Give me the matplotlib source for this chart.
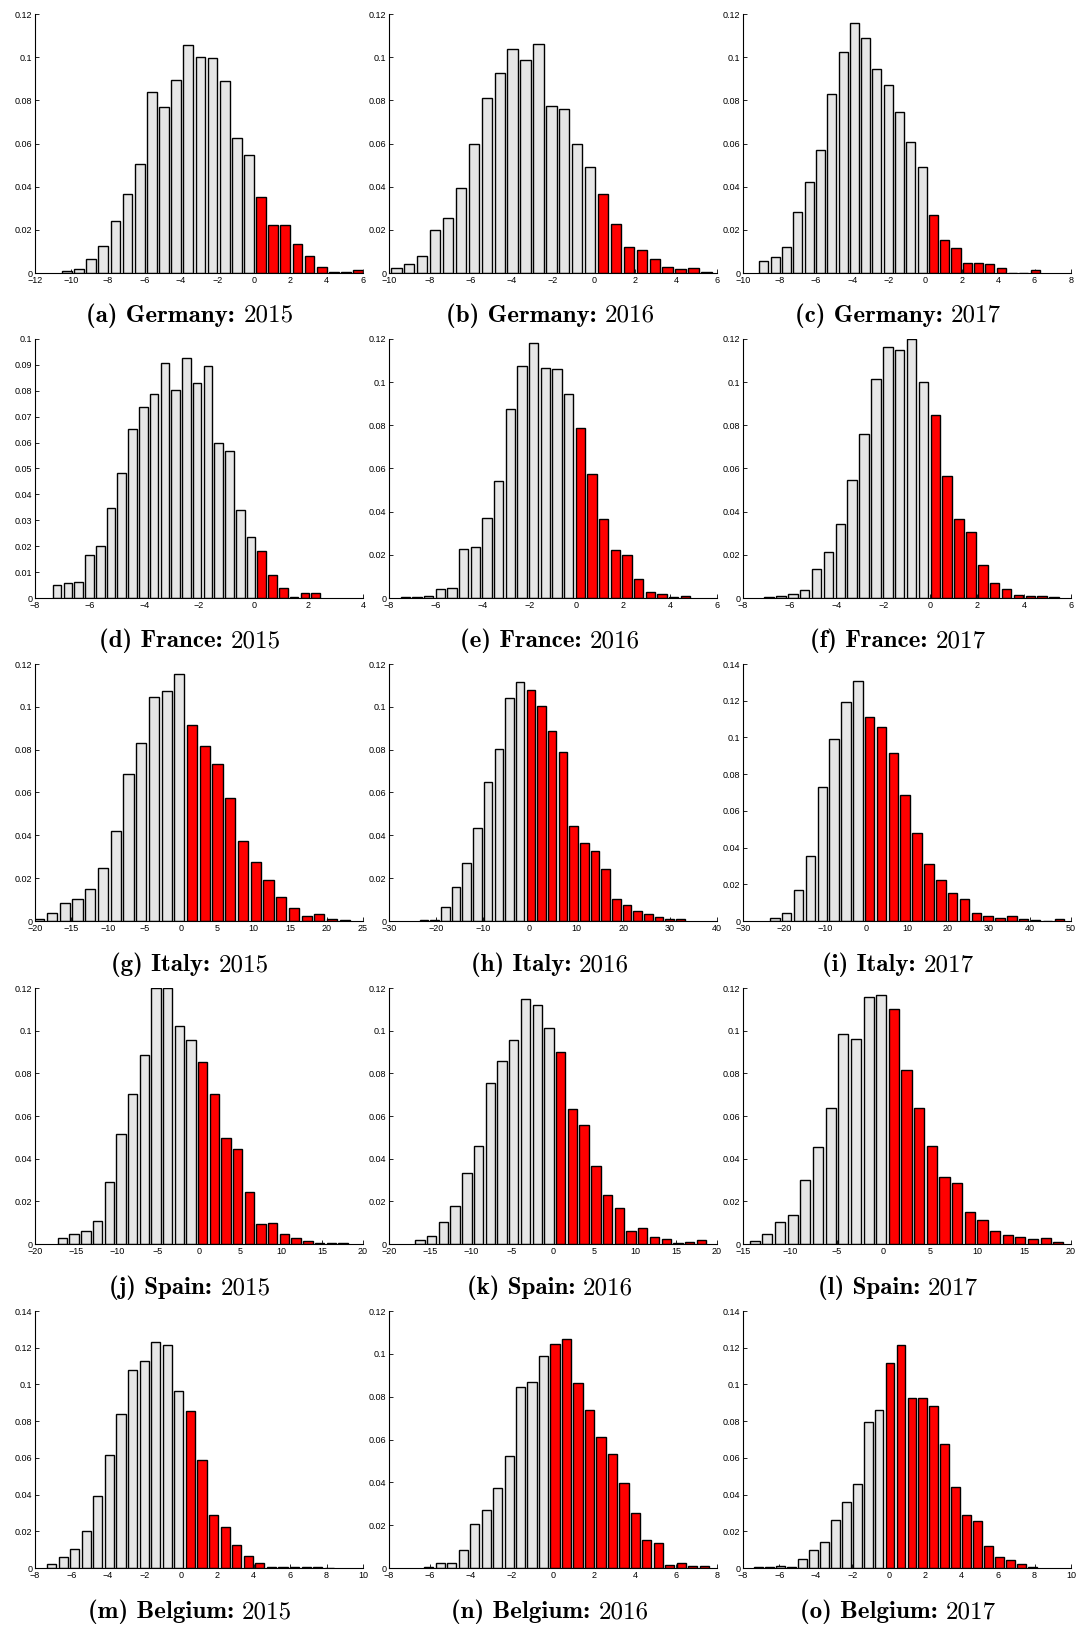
import os
import numpy as np
import matplotlib
import matplotlib.pyplot as plt
from matplotlib import font_manager
from matplotlib.ticker import FuncFormatter, MultipleLocator

plt.rcParams["font.family"] = ["Liberation Sans", "DejaVu Sans"]

countries = ["Germany", "France", "Italy", "Spain", "Belgium"]
years = [2015, 2016, 2017]
letters = "abcdefghijklmno"

# histogram heights (relative frequency), one list per country/year
germany_2015 = [0.001, 0.002, 0.0065, 0.0124, 0.0241, 0.0365, 0.0506, 0.0837, 0.077, 0.0892,
                0.1058, 0.1002, 0.0996, 0.0888, 0.0626, 0.0546, 0.0354, 0.0224, 0.0224, 0.0136,
                0.008, 0.0029, 0.0003, 0.0006, 0.0015]
germany_2016 = [0.0025, 0.004, 0.008, 0.020, 0.0255, 0.0394, 0.060, 0.0812, 0.0928, 0.1036,
                0.0987, 0.1062, 0.0775, 0.0762, 0.060, 0.049, 0.0366, 0.0229, 0.0119, 0.0105,
                0.0065, 0.0029, 0.002, 0.0025, 0.0006]
germany_2017 = [0.0054, 0.0074, 0.012, 0.0284, 0.0421, 0.0571, 0.083, 0.1022, 0.1157, 0.1087,
                0.0946, 0.0871, 0.0745, 0.0609, 0.0492, 0.0271, 0.0155, 0.0114, 0.0048, 0.0048,
                0.0043, 0.0025, 0.0, 0.0, 0.0015]
france_2015 = [0.0049, 0.0059, 0.0063, 0.0165, 0.020, 0.0349, 0.0481, 0.0651, 0.0736, 0.0786,
               0.0906, 0.0805, 0.0927, 0.0831, 0.0897, 0.060, 0.0566, 0.034, 0.0235, 0.0183,
               0.009, 0.0039, 0.0005, 0.0021, 0.0021]
france_2016 = [0.0003, 0.0003, 0.0009, 0.0043, 0.0048, 0.0229, 0.0234, 0.0371, 0.0544, 0.0875,
               0.1076, 0.118, 0.1067, 0.1061, 0.0946, 0.0786, 0.0574, 0.0365, 0.0224, 0.020,
               0.0088, 0.0029, 0.0019, 0.0005, 0.0009]
france_2017 = [0.0003, 0.0009, 0.002, 0.0039, 0.0133, 0.0213, 0.0345, 0.0549, 0.0761, 0.1013,
               0.1161, 0.1151, 0.120, 0.0999, 0.0846, 0.0567, 0.0365, 0.0308, 0.0155, 0.0068,
               0.0043, 0.0014, 0.0008, 0.0008, 0.0003]
italy_2015 = [0.0009, 0.0039, 0.0084, 0.0104, 0.0148, 0.0249, 0.0419, 0.0688, 0.0829, 0.1048,
              0.1075, 0.1154, 0.0917, 0.0815, 0.0735, 0.0575, 0.0374, 0.0274, 0.0193, 0.0114,
              0.0059, 0.0023, 0.0034, 0.0009, 0.0005]
italy_2016 = [0.0005, 0.0005, 0.0064, 0.016, 0.027, 0.0435, 0.065, 0.0805, 0.1039, 0.1115,
              0.108, 0.1005, 0.0885, 0.079, 0.0445, 0.0365, 0.0329, 0.0245, 0.0105, 0.0073,
              0.0048, 0.0034, 0.0019, 0.0009, 0.0009]
italy_2017 = [0.0015, 0.0044, 0.0169, 0.0355, 0.0729, 0.0989, 0.1191, 0.1305, 0.1113, 0.1055,
              0.0913, 0.0684, 0.048, 0.0309, 0.0225, 0.0155, 0.012, 0.0044, 0.0025, 0.0015,
              0.0029, 0.0011, 0.0004, 0.0, 0.0011]
spain_2015 = [0.0026, 0.0047, 0.0062, 0.011, 0.029, 0.0517, 0.0704, 0.0888, 0.120, 0.120,
              0.1022, 0.0957, 0.0852, 0.0704, 0.0497, 0.0443, 0.0242, 0.0093, 0.0097, 0.0047,
              0.0026, 0.0012, 0.0003, 0.0006, 0.0006]
spain_2016 = [0.0017, 0.0036, 0.0101, 0.0177, 0.0335, 0.0461, 0.0757, 0.0857, 0.0957, 0.1149,
              0.112, 0.1013, 0.0898, 0.0633, 0.0558, 0.0366, 0.0232, 0.0167, 0.0062, 0.0075,
              0.0031, 0.0023, 0.0005, 0.0008, 0.0019]
spain_2017 = [0.0012, 0.0047, 0.0101, 0.0137, 0.030, 0.0455, 0.0639, 0.0986, 0.0963, 0.1158,
              0.1167, 0.1102, 0.0817, 0.0639, 0.0461, 0.0316, 0.0287, 0.0151, 0.0111, 0.0061,
              0.004, 0.0031, 0.0022, 0.0026, 0.0011]
belgium_2015 = [0.002, 0.0062, 0.0105, 0.0202, 0.0391, 0.0616, 0.0838, 0.1078, 0.1127, 0.1233,
                0.1213, 0.0962, 0.0856, 0.0587, 0.0291, 0.0222, 0.0127, 0.0065, 0.0027, 0.0004,
                0.0007, 0.0004, 0.0004, 0.0007, 0.0002]
belgium_2016 = [0.0005, 0.0023, 0.0023, 0.0084, 0.0205, 0.0269, 0.0375, 0.0521, 0.0844, 0.0869,
                0.0989, 0.1045, 0.107, 0.0863, 0.0737, 0.0611, 0.0532, 0.0395, 0.0255, 0.0129,
                0.0117, 0.0014, 0.0022, 0.0008, 0.0008]
belgium_2017 = [0.0004, 0.0005, 0.0011, 0.0004, 0.0051, 0.010, 0.0144, 0.0262, 0.0362, 0.0456,
                0.0793, 0.0862, 0.1115, 0.1213, 0.0927, 0.0924, 0.0882, 0.0676, 0.044, 0.0289,
                0.0255, 0.0118, 0.0058, 0.0044, 0.002, 0.0005]

heights = [germany_2015, germany_2016, germany_2017,
           france_2015, france_2016, france_2017,
           italy_2015, italy_2016, italy_2017,
           spain_2015, spain_2016, spain_2017,
           belgium_2015, belgium_2016, belgium_2017]

# centre of the first bin and bin width of each histogram
first_centre = [-10.25, -9.64, -8.85, -7.19, -7.30, -6.89, -19.4, -22.53, -22.22,
                -16.65, -16.22, -13.75, -7.09, -6.06, -7.13]
bin_width = [0.666, 0.63, 0.62, 0.394, 0.498, 0.507, 1.746, 2.28, 2.89,
             1.425, 1.43, 1.35, 0.635, 0.56, 0.60]

xlims = [(-12, 6), (-10, 6), (-10, 8), (-8, 4), (-8, 6), (-8, 6), (-20, 25), (-30, 40), (-30, 50),
         (-20, 20), (-20, 20), (-15, 20), (-8, 10), (-8, 8), (-8, 10)]
xsteps = [2, 2, 2, 2, 2, 2, 5, 10, 10, 5, 5, 5, 2, 2, 2]
ymaxs = [0.12, 0.12, 0.12, 0.10, 0.12, 0.12, 0.12, 0.12, 0.14, 0.12, 0.12, 0.12, 0.14, 0.12, 0.14]
ysteps = [0.02, 0.02, 0.02, 0.01, 0.02, 0.02, 0.02, 0.02, 0.02, 0.02, 0.02, 0.02, 0.02, 0.02, 0.02]

GREY = "#e6e6e6"
RED = "#ff0000"

# Computer Modern shipped with matplotlib, for the sub-captions
ttf_dir = os.path.join(matplotlib.get_data_path(), "fonts", "ttf")
CAP_SIZE = 18
bold_fp = font_manager.FontProperties(fname=os.path.join(ttf_dir, "cmb10.ttf"), size=CAP_SIZE)
reg_fp = font_manager.FontProperties(fname=os.path.join(ttf_dir, "cmr10.ttf"), size=CAP_SIZE)

W, H = 1079, 1626
fig = plt.figure(figsize=(W / 100, H / 100), dpi=100)

col_left = [35, 389, 743]
col_width = 328
row_top = [14, 339, 664, 988, 1311]
row_bottom = [273, 598, 921, 1244, 1568]
title_x = [190, 550, 898]
title_base = [322, 647, 971, 1294, 1618]


def tick_fmt(v, pos):
    s = f"{v:.10g}"
    if s == "-0":
        s = "0"
    return s.replace("-", "\u2212")


captions = []
for i in range(15):
    r, c = divmod(i, 3)
    left = col_left[c] / W
    bottom = 1 - row_bottom[r] / H
    height = (row_bottom[r] - row_top[r]) / H
    ax = fig.add_axes([left, bottom, col_width / W, height])

    h = np.array(heights[i])
    centres = first_centre[i] + bin_width[i] * np.arange(len(h))
    colours = [RED if x > 0 else GREY for x in centres]
    ax.bar(centres, h, width=0.8 * bin_width[i], color=colours,
           edgecolor="black", linewidth=1.0, zorder=2)

    ax.set_xlim(*xlims[i])
    ax.set_ylim(0, ymaxs[i])
    ax.xaxis.set_major_locator(MultipleLocator(xsteps[i]))
    ax.yaxis.set_major_locator(MultipleLocator(ysteps[i]))
    ax.xaxis.set_major_formatter(FuncFormatter(tick_fmt))
    ax.yaxis.set_major_formatter(FuncFormatter(tick_fmt))
    ax.spines["top"].set_visible(False)
    ax.spines["right"].set_visible(False)
    for s in ("left", "bottom"):
        ax.spines[s].set_linewidth(0.8)
        ax.spines[s].set_zorder(3)
    ax.tick_params(direction="in", length=3, width=0.6, labelsize=6.5)
    ax.tick_params(axis="x", pad=2)
    ax.tick_params(axis="y", pad=2)

    # "(a) Germany:" in bold, the year in roman
    y = 1 - title_base[r] / H
    t1 = fig.text(0, y, f"({letters[i]}) {countries[r]}:", fontproperties=bold_fp, va="baseline")
    t2 = fig.text(0, y, str(years[c]), fontproperties=reg_fp, va="baseline")
    captions.append((t1, t2, title_x[c]))

renderer = fig.canvas.get_renderer()
gap = 0.33 * CAP_SIZE * 100 / 72
for t1, t2, cx in captions:
    w1 = t1.get_window_extent(renderer).width
    w2 = t2.get_window_extent(renderer).width
    x0 = cx - (w1 + gap + w2) / 2
    t1.set_x(x0 / W)
    t2.set_x((x0 + w1 + gap) / W)

fig.savefig("out.png", dpi=100)
